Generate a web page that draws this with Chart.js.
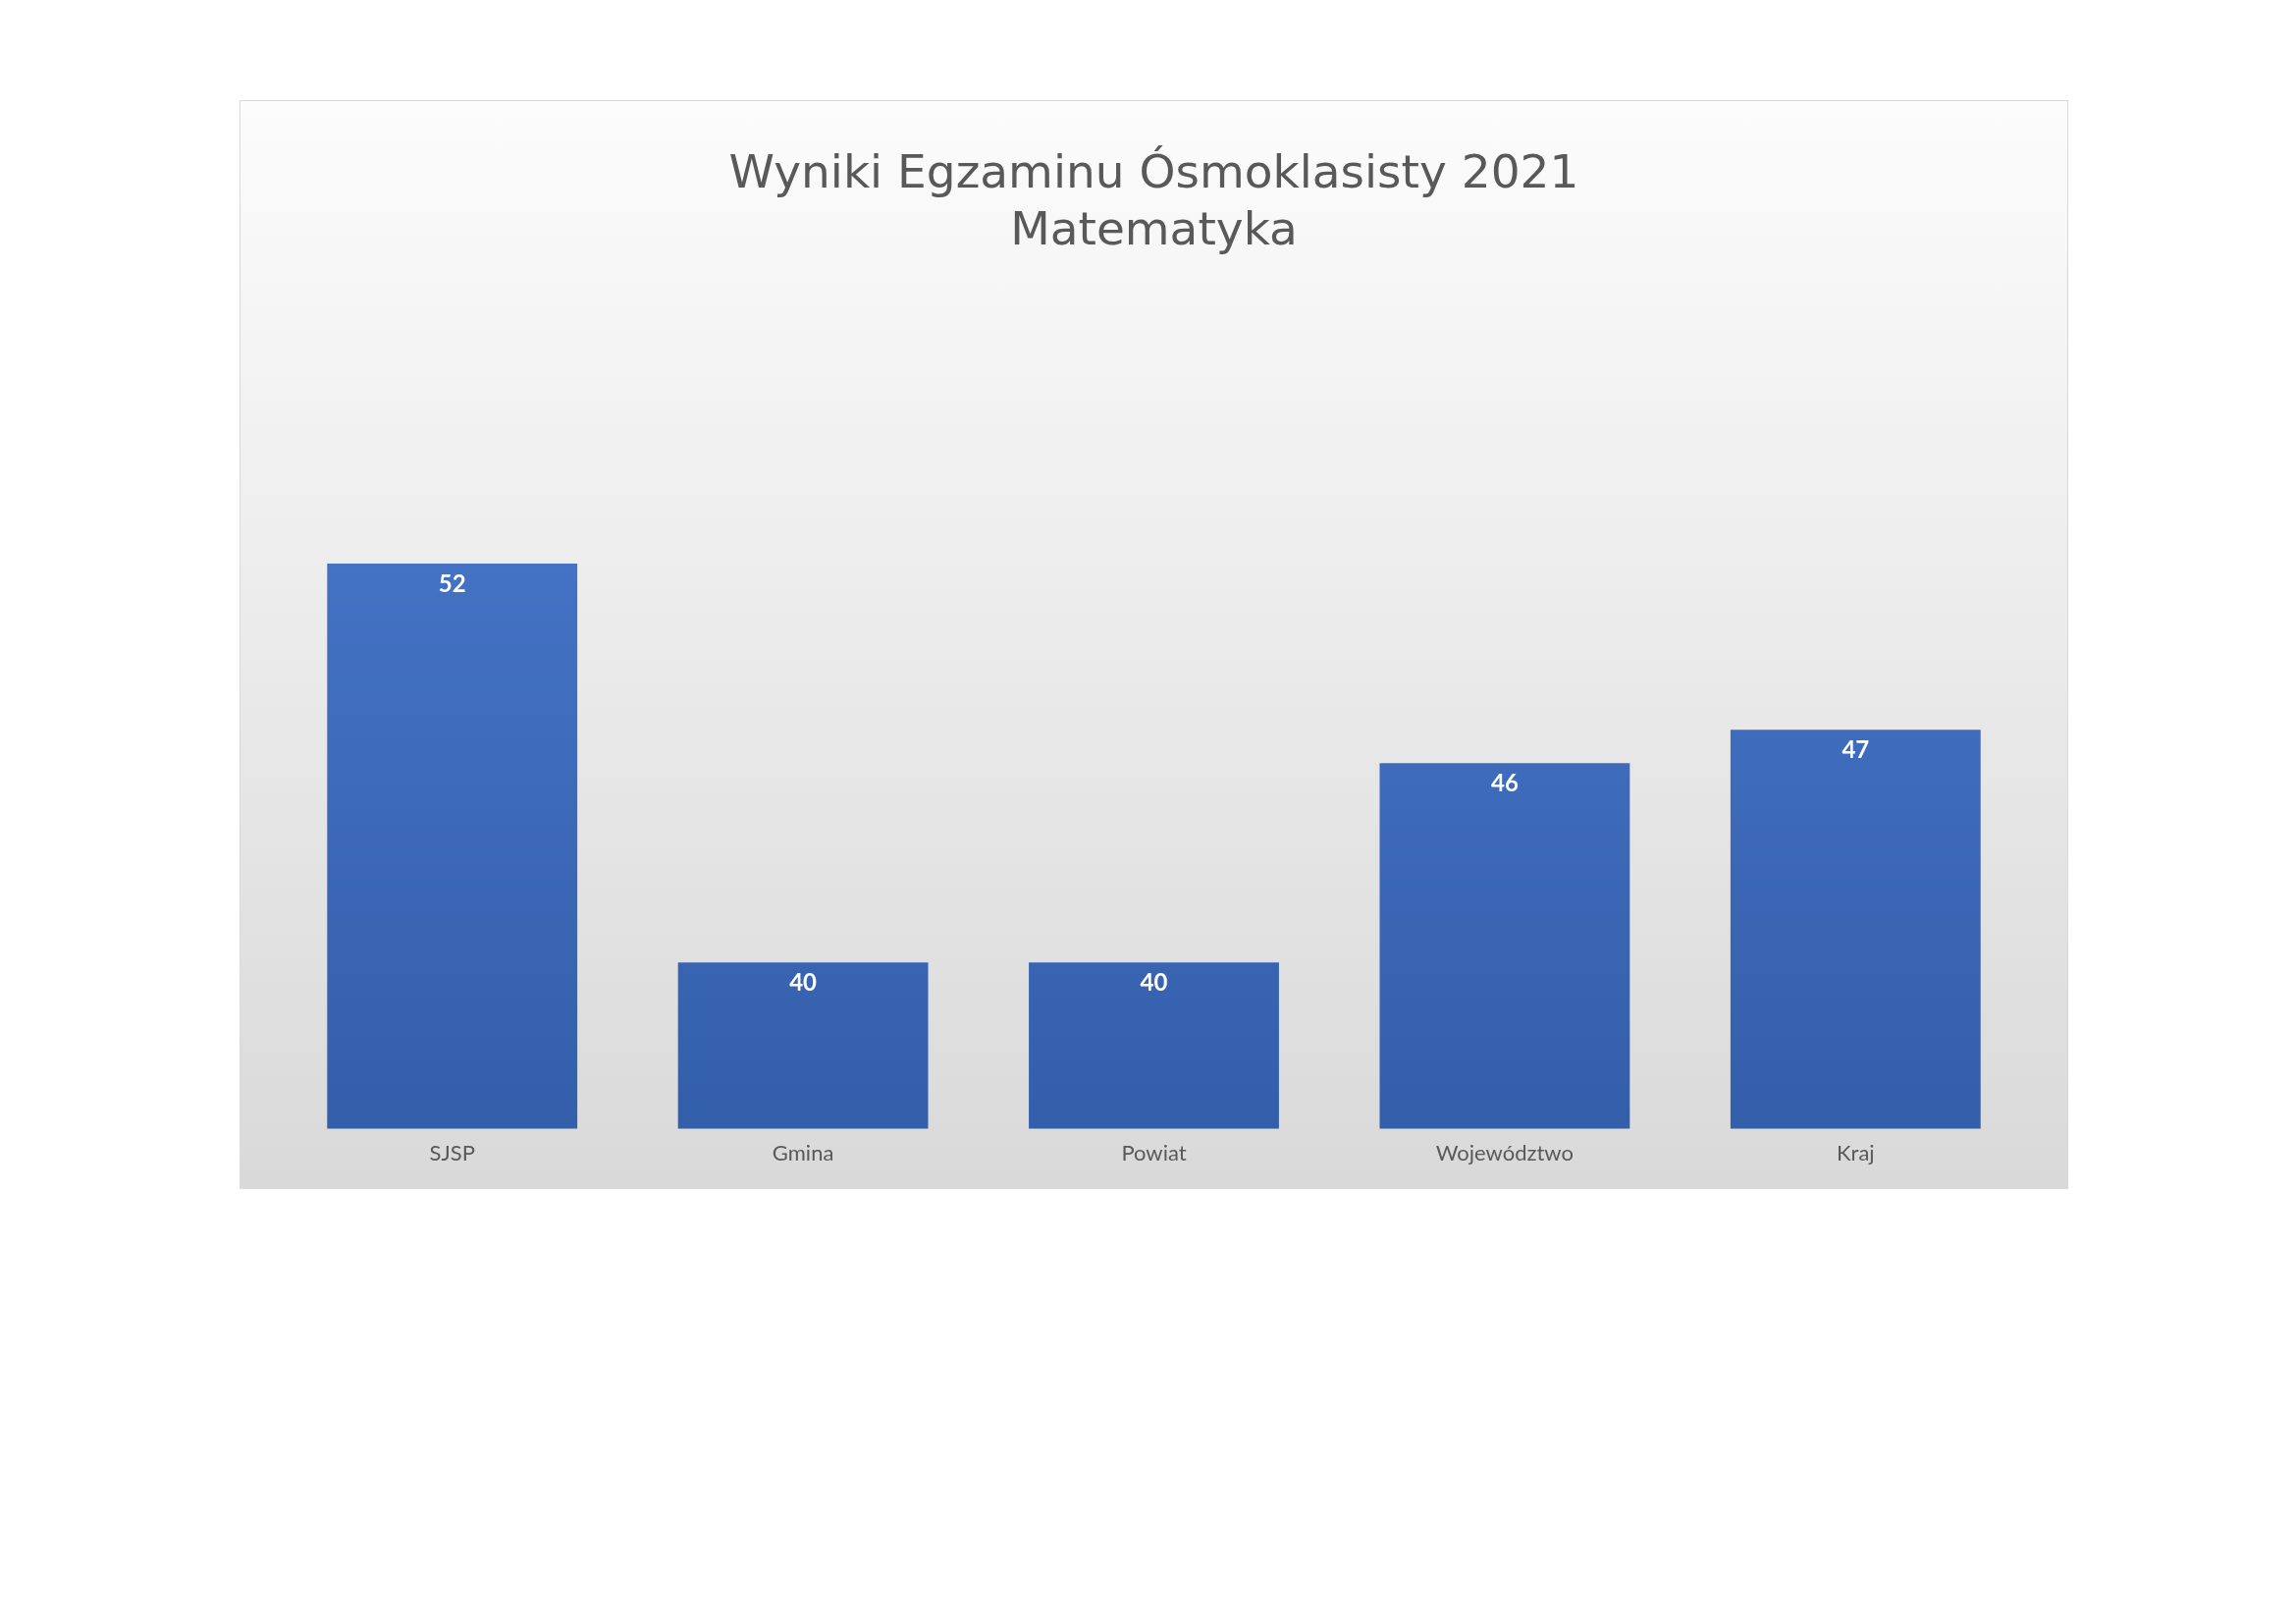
<!DOCTYPE html>
<html><head><meta charset="utf-8">
<script src="https://cdn.jsdelivr.net/npm/chart.js@4"></script>
<style>
html,body{margin:0;background:#fff;width:2339px;height:1654px;overflow:hidden}
#box{position:absolute;left:244px;top:102px;width:1861px;height:1107px;border:1px solid #d9d9d9;background:linear-gradient(#fcfcfc,#d9d9d9)}
</style></head><body>
<div id="box"><canvas id="c" width="1861" height="1107"></canvas></div>
<script>
const categories=["SJSP","Gmina","Powiat","Województwo","Kraj"];
const values=[52,40,40,46,47];
const titleLines=["Wyniki Egzaminu Ósmoklasisty 2021","Matematyka"];
const labelPlugin={id:'lbl',afterDatasetsDraw(ch){const ctx=ch.ctx;ch.getDatasetMeta(0).data.forEach((b,i)=>{ctx.save();ctx.fillStyle='#fff';ctx.font='bold 24px Lato';ctx.textAlign='center';ctx.textBaseline='top';ctx.fillText(values[i],b.x,b.y+9);ctx.restore();});}};
new Chart(document.getElementById('c'),{type:'bar',
data:{labels:categories,datasets:[{data:values,barPercentage:0.713,categoryPercentage:1,
backgroundColor:(c)=>{const a=c.chart.chartArea;if(!a)return '#4472c4';const g=c.chart.ctx.createLinearGradient(0,a.top+100,0,a.bottom);g.addColorStop(0,'#4472c4');g.addColorStop(1,'#335eaa');return g;}}]},
options:{responsive:false,animation:false,
layout:{padding:{left:37,right:37,top:0,bottom:18}},
plugins:{legend:{display:false},tooltip:{enabled:false},
title:{display:true,text:titleLines,color:'#595959',font:{family:'DejaVu Sans',size:47,weight:'normal',lineHeight:1.25},padding:{top:46,bottom:206}}},
scales:{y:{display:false,min:35,max:55},
x:{grid:{display:false},border:{display:false},ticks:{color:'#595959',font:{family:'Lato',size:22},padding:4}}}},
plugins:[labelPlugin]});
</script></body></html>
